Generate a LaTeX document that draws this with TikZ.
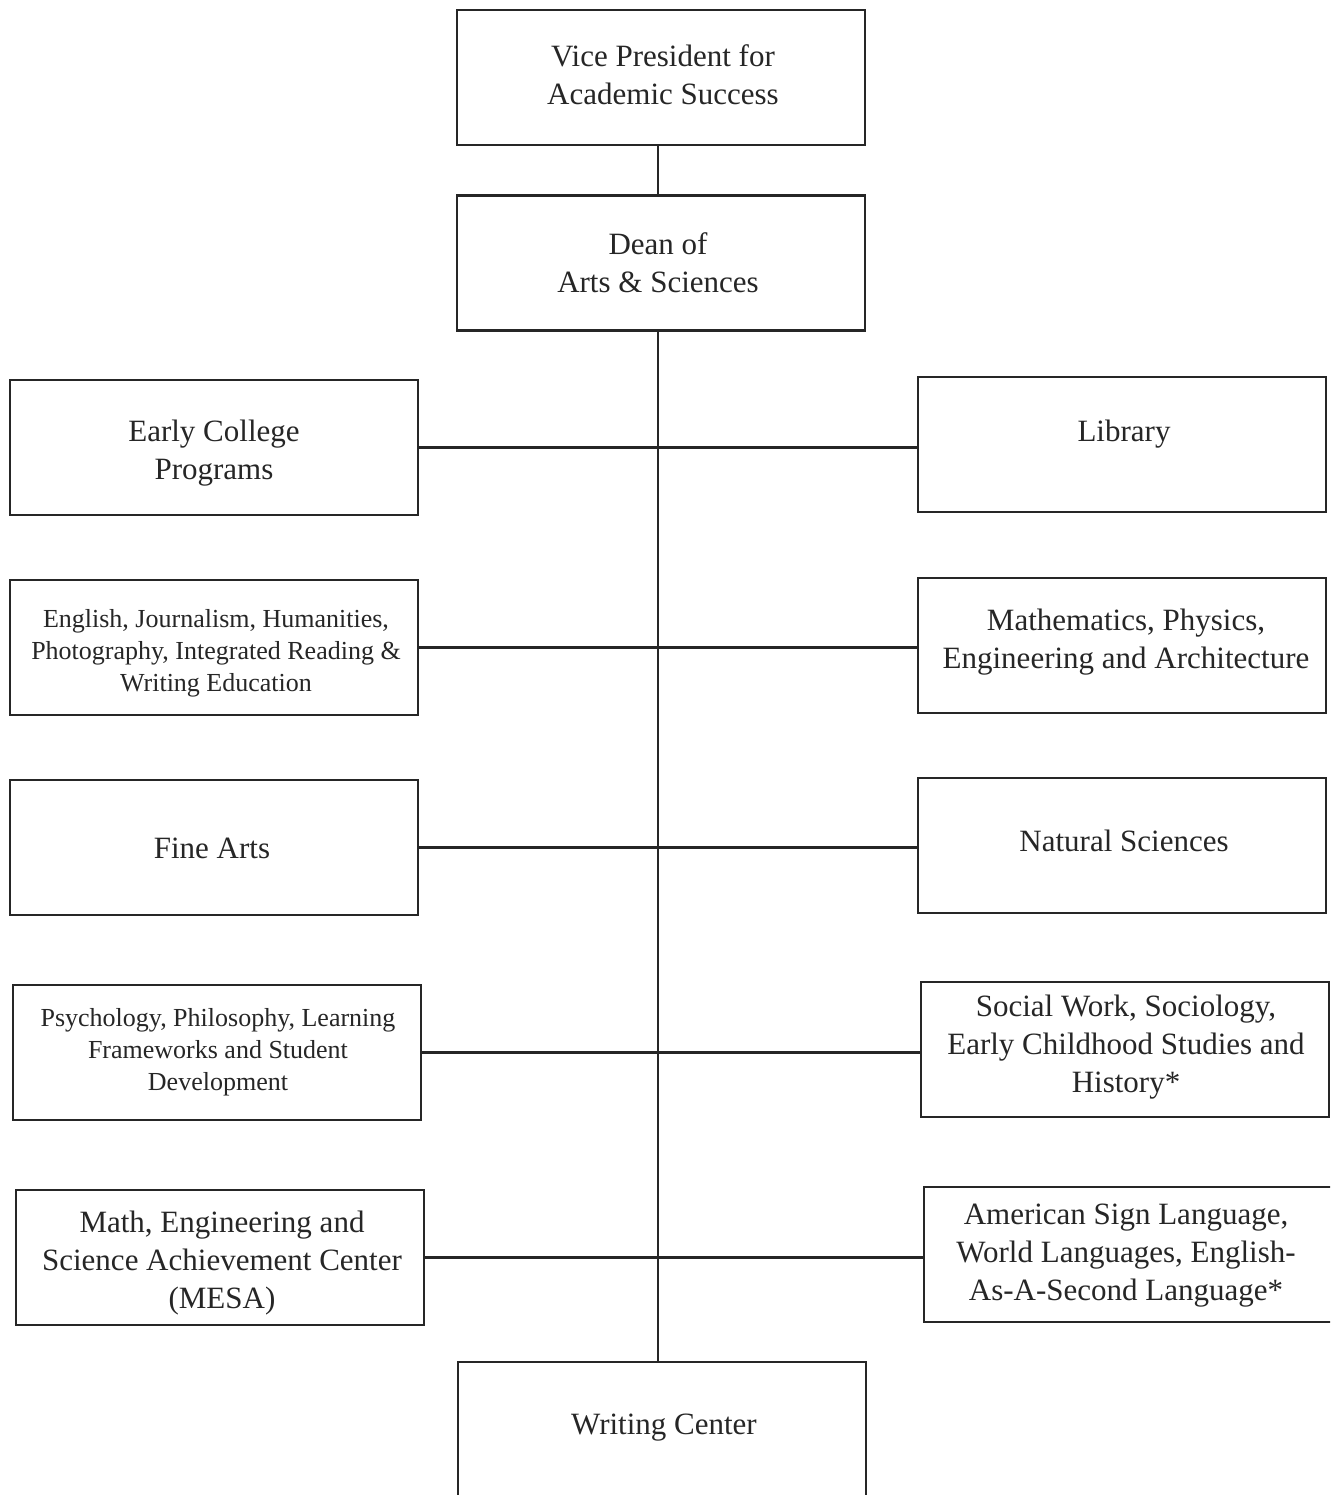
\documentclass[tikz,border=0pt]{standalone}
\usepackage{fontspec}
\setmainfont{Liberation Serif}
\begin{document}
\begin{tikzpicture}[x=1pt,y=-1pt,
 box/.style={draw=black!85, line width=2.2pt, rectangle, inner sep=0pt, minimum width=408pt, minimum height=135pt},
 big/.style={font=\fontsize{31}{38}\selectfont, align=center, inner sep=0pt, text=black!85, yshift=-3.5pt},
 small/.style={font=\fontsize{26}{32}\selectfont, align=center, inner sep=0pt, text=black!85, yshift=-3pt},
 conn/.style={draw=black!85, line width=2.2pt}]
\useasboundingbox (0,0) rectangle (1330,1495);
\fill[white] (0,0) rectangle (1330,1495);
\clip (0,0) rectangle (1330,1495);
\coordinate (spine) at (658,0);
% boxes
\node[box] (vp)  at (661,77.5) {};
\node[box] (dean) at (661,263) {};
\node[box] (ec)  at (214,447.5) {};
\node[box] (lib) at (1122,444.5) {};
\node[box] (eng) at (214,647.5) {};
\node[box] (mat) at (1122,645.5) {};
\node[box] (fa)  at (214,847.5) {};
\node[box] (ns)  at (1122,845.5) {};
\node[box] (psy) at (217,1052.5) {};
\node[box] (soc) at (1125,1049.5) {};
\node[box] (mesa) at (220,1257.5) {};
\node[box, minimum width=420pt] (asl) at (1134,1254.5) {};
\node[box, minimum height=200pt] (wc) at (662,1462) {};
% texts
\node[big] (tvp) at (663,71) {Vice President for\\Academic Success};
\node[big] (tdean) at (658,259) {Dean of\\Arts \& Sciences};
\node[big] (tec) at (214,450) {Early College\\Programs};
\node[big] (tlib) at (1124,431) {Library};
\node[small] (teng) at (216,650) {English, Journalism, Humanities,\\Photography, Integrated Reading \&\\Writing Education};
\node[big] (tmat) at (1126,639) {Mathematics, Physics,\\Engineering and Architecture};
\node[big] (tfa) at (212,845) {Fine Arts};
\node[big] (tns) at (1124,837) {Natural Sciences};
\node[small] (tpsy) at (218,1049) {Psychology, Philosophy, Learning\\Frameworks and Student\\Development};
\node[big] (tsoc) at (1126,1044) {Social Work, Sociology,\\Early Childhood Studies and\\History*};
\node[big] (tmesa) at (222,1260) {Math, Engineering and\\Science Achievement Center\\(MESA)};
\node[big] (tasl) at (1126,1252) {American Sign Language,\\World Languages, English-\\As-A-Second Language*};
\node[big] (twc) at (664,1424) {Writing Center};
% connectors
\draw[conn] (vp.south -| spine) -- (dean.north -| spine);
\draw[conn] (dean.south -| spine) -- (wc.north -| spine);
\draw[conn] (ec.east) -- (ec.east -| lib.west);
\draw[conn] (eng.east) -- (eng.east -| mat.west);
\draw[conn] (fa.east) -- (fa.east -| ns.west);
\draw[conn] (psy.east) -- (psy.east -| soc.west);
\draw[conn] (mesa.east) -- (mesa.east -| asl.west);
\end{tikzpicture}
\end{document}
